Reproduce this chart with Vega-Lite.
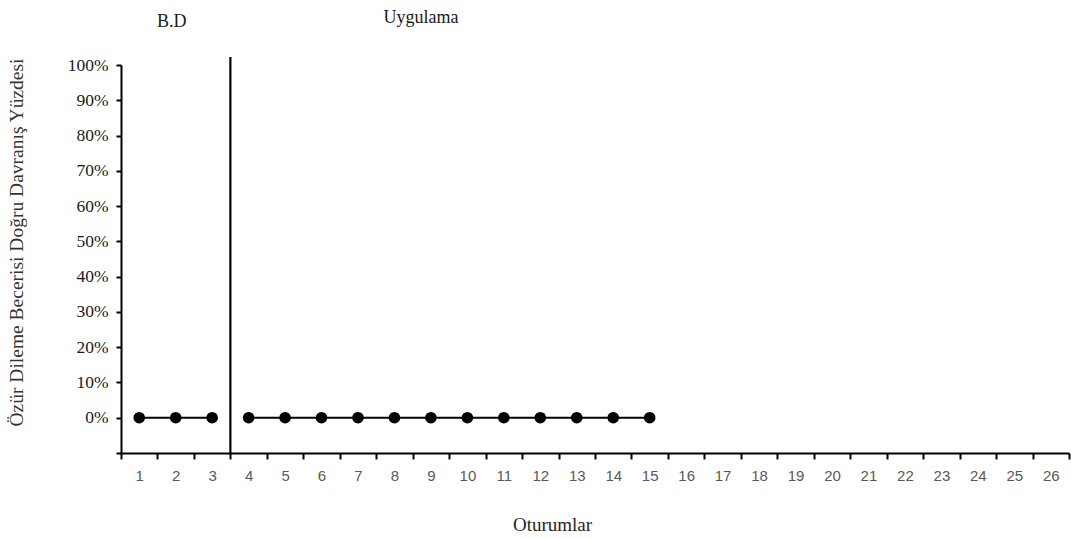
{
  "$schema": "https://vega.github.io/schema/vega-lite/v6.json",
  "width": 948,
  "height": 388,
  "autosize": {"type": "none"},
  "padding": {"left": 121, "top": 65, "right": 2, "bottom": 86},
  "background": "white",
  "config": {"view": {"stroke": null}},
  "data": {
    "values": [
      {"session": 1, "value": 0, "phase": "B.D"},
      {"session": 2, "value": 0, "phase": "B.D"},
      {"session": 3, "value": 0, "phase": "B.D"},
      {"session": 4, "value": 0, "phase": "Uygulama"},
      {"session": 5, "value": 0, "phase": "Uygulama"},
      {"session": 6, "value": 0, "phase": "Uygulama"},
      {"session": 7, "value": 0, "phase": "Uygulama"},
      {"session": 8, "value": 0, "phase": "Uygulama"},
      {"session": 9, "value": 0, "phase": "Uygulama"},
      {"session": 10, "value": 0, "phase": "Uygulama"},
      {"session": 11, "value": 0, "phase": "Uygulama"},
      {"session": 12, "value": 0, "phase": "Uygulama"},
      {"session": 13, "value": 0, "phase": "Uygulama"},
      {"session": 14, "value": 0, "phase": "Uygulama"},
      {"session": 15, "value": 0, "phase": "Uygulama"}
    ]
  },
  "encoding": {
    "x": {
      "field": "session",
      "type": "ordinal",
      "scale": {"domain": [1,2,3,4,5,6,7,8,9,10,11,12,13,14,15,16,17,18,19,20,21,22,23,24,25,26], "paddingInner": 0, "paddingOuter": 0},
      "axis": {
        "title": "Oturumlar",
        "labelAngle": 0,
        "tickBand": "extent",
        "domainColor": "#000000",
        "domainWidth": 2,
        "tickColor": "#000000",
        "tickWidth": 2,
        "tickSize": 6,
        "labelFont": "Liberation Sans",
        "labelFontSize": 15,
        "labelColor": "#595959",
        "labelPadding": 9,
        "titleFont": "Liberation Serif",
        "titleFontSize": 19,
        "titleFontWeight": "normal",
        "titleColor": "#262626",
        "titleX": 431,
        "titleY": 77,
        "titleAlign": "center",
        "titleBaseline": "alphabetic"
      }
    },
    "y": {
      "field": "value",
      "type": "quantitative",
      "scale": {"domain": [-0.1, 1], "nice": false, "zero": false},
      "axis": {
        "title": "Özür Dileme Becerisi Doğru Davranış Yüzdesi",
        "values": [-0.1, 0, 0.1, 0.2, 0.3, 0.4, 0.5, 0.6, 0.7, 0.8, 0.9, 1],
        "labelExpr": "datum.value < -0.05 ? '' : format(datum.value, '.0%')",
        "grid": false,
        "domainColor": "#000000",
        "domainWidth": 2,
        "tickColor": "#000000",
        "tickWidth": 2,
        "tickSize": 5,
        "labelFont": "Liberation Serif",
        "labelFontSize": 17.5,
        "labelColor": "#1a1a1a",
        "labelPadding": 8,
        "titleFont": "Liberation Serif",
        "titleFontSize": 19.5,
        "titleFontWeight": "normal",
        "titleColor": "#333333",
        "titleX": -105,
        "titleY": 177,
        "titleAngle": 270,
        "titleAlign": "center",
        "titleBaseline": "middle",
        "titleLimit": 600
      }
    }
  },
  "layer": [
    {
      "mark": {"type": "line", "color": "#000000", "strokeWidth": 2},
      "encoding": {"detail": {"field": "phase"}}
    },
    {
      "mark": {"type": "point", "filled": true, "color": "#000000", "size": 135, "opacity": 1}
    },
    {
      "transform": [{"filter": "datum.session == 4"}],
      "mark": {"type": "rule", "color": "#000000", "strokeWidth": 2.2},
      "encoding": {
        "x": {"field": "session", "type": "ordinal", "bandPosition": 0},
        "y": {"datum": -0.1},
        "y2": {"datum": 1.023}
      }
    },
    {
      "transform": [{"filter": "datum.session == 2"}],
      "mark": {"type": "text", "font": "Liberation Serif", "fontSize": 18, "fontWeight": "normal", "fill": "#1a1a1a", "baseline": "alphabetic", "align": "center", "dx": -4},
      "encoding": {
        "text": {"field": "phase"},
        "y": {"datum": 1.108}
      }
    },
    {
      "transform": [{"filter": "datum.session == 9"}],
      "mark": {"type": "text", "font": "Liberation Serif", "fontSize": 18, "fontWeight": "normal", "fill": "#1a1a1a", "baseline": "alphabetic", "align": "center", "dx": -10},
      "encoding": {
        "text": {"field": "phase"},
        "y": {"datum": 1.119}
      }
    }
  ]
}
